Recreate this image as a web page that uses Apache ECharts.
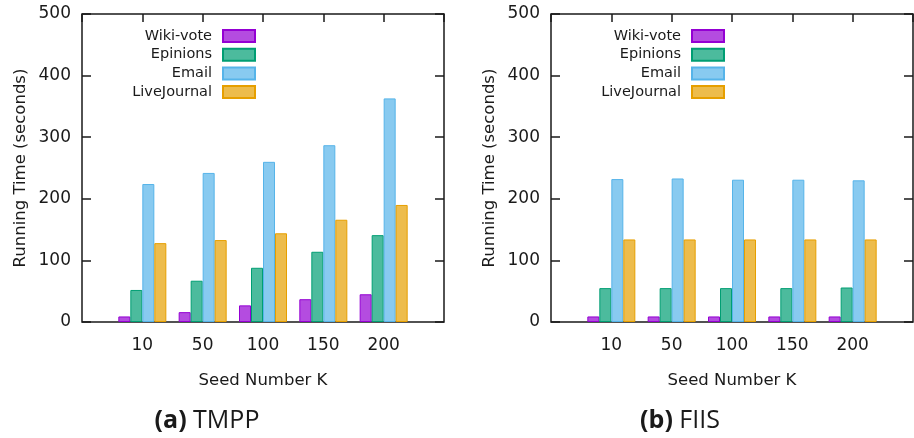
<!DOCTYPE html>
<html>
<head>
<meta charset="utf-8">
<script src="https://cdn.jsdelivr.net/npm/echarts@6/dist/echarts.min.js"></script>
<style>
html,body{margin:0;padding:0;background:#fff;}
#chart{width:914px;height:438px;}
</style>
</head>
<body>
<div id="chart"></div>
<script>
var categories = ['10', '50', '100', '150', '200'];
var seriesNames = ['Wiki-vote', 'Epinions', 'Email', 'LiveJournal'];
var yTicks = [0, 100, 200, 300, 400, 500];

// (a) TMPP
var tmppWiki = [9, 16, 27, 37, 45];
var tmppEpinions = [52, 67, 88, 114, 141];
var tmppEmail = [224, 242, 260, 287, 363];
var tmppLive = [128, 133, 144, 166, 190];

// (b) FIIS
var fiisWiki = [9, 9, 9, 9, 9];
var fiisEpinions = [55, 55, 55, 55, 56];
var fiisEmail = [232, 233, 231, 231, 230];
var fiisLive = [134, 134, 134, 134, 134];

var baseColors = ['148,0,211', '0,158,115', '86,180,233', '230,159,0'];
var textColor = '#1a1a1a';
var font = 'DejaVu Sans';

var axisCats = [''].concat(categories, ['']);
function pad(arr) { return ['-'].concat(arr, ['-']); }

var grids = [
  {left: 82, top: 14, width: 362, height: 308},
  {left: 551, top: 14, width: 362, height: 308}
];

var option = {
  animation: false,
  backgroundColor: '#fff',
  textStyle: {fontFamily: font, color: textColor},
  grid: grids.map(function (g) {
    return {left: g.left, top: g.top, width: g.width, height: g.height,
      show: true, borderColor: textColor, borderWidth: 1.5, backgroundColor: 'transparent',
      containLabel: false, outerBoundsMode: 'none'};
  }),
  xAxis: [],
  yAxis: [],
  series: [],
  legend: [],
  title: [
    {text: '{b|(a)} TMPP', left: 207, top: 406, textAlign: 'center', padding: 0,
      textStyle: {fontFamily: 'Open Sans', fontSize: 25, fontWeight: 'normal', color: textColor, lineHeight: 30,
        rich: {b: {fontFamily: 'Open Sans', fontSize: 25, fontWeight: 'bold', color: textColor, lineHeight: 30}}}},
    {text: '{b|(b)} FIIS', left: 680, top: 406, textAlign: 'center', padding: 0,
      textStyle: {fontFamily: 'Open Sans', fontSize: 25, fontWeight: 'normal', color: textColor, lineHeight: 30,
        rich: {b: {fontFamily: 'Open Sans', fontSize: 25, fontWeight: 'bold', color: textColor, lineHeight: 30}}}}
  ]
};

var dataSets = [
  [tmppWiki, tmppEpinions, tmppEmail, tmppLive],
  [fiisWiki, fiisEpinions, fiisEmail, fiisLive]
];
var legendRights = [658, 189];

for (var gi = 0; gi < 2; gi++) {
  // bottom x axis
  option.xAxis.push({
    type: 'category', gridIndex: gi, position: 'bottom', data: axisCats, boundaryGap: false,
    axisLine: {show: false, onZero: false}, axisTick: {show: false}, splitLine: {show: false},
    axisLabel: {fontSize: 17, color: textColor, fontFamily: font, margin: 15, interval: 0},
    name: 'Seed Number K', nameLocation: 'middle', nameGap: 50,
    nameTextStyle: {fontSize: 16.5, color: textColor, fontFamily: font}
  });
  // top mirror x axis (ticks only)
  option.xAxis.push({
    type: 'category', gridIndex: gi, position: 'top', data: axisCats, boundaryGap: false,
    axisLine: {show: false, onZero: false}, splitLine: {show: false},
    axisLabel: {show: true, interval: 0, color: 'rgba(0,0,0,0)', fontSize: 10},
    axisTick: {show: true, inside: true, length: 8, interval: 0, lineStyle: {color: textColor, width: 1.5}}
  });
  option.yAxis.push({
    type: 'value', gridIndex: gi, position: 'left', min: yTicks[0], max: yTicks[yTicks.length - 1], interval: 100,
    axisLine: {show: false, onZero: false}, splitLine: {show: false},
    axisTick: {show: true, inside: true, length: 9, lineStyle: {color: textColor, width: 1.5}},
    axisLabel: {fontSize: 17, color: textColor, fontFamily: font, margin: 11},
    name: 'Running Time (seconds)', nameLocation: 'middle', nameGap: 53,
    nameTextStyle: {fontSize: 16.5, color: textColor, fontFamily: font}
  });
  option.yAxis.push({
    type: 'value', gridIndex: gi, position: 'right', min: yTicks[0], max: yTicks[yTicks.length - 1], interval: 100,
    axisLine: {show: false, onZero: false}, splitLine: {show: false}, axisLabel: {show: false},
    axisTick: {show: true, inside: true, length: 9, lineStyle: {color: textColor, width: 1.5}}
  });
  for (var si = 0; si < 4; si++) {
    option.series.push({
      type: 'bar', name: seriesNames[si], xAxisIndex: gi * 2, yAxisIndex: gi * 2,
      data: pad(dataSets[gi][si]), barWidth: 12, barGap: '0%',
      itemStyle: {color: 'rgba(' + baseColors[si] + ',0.7)', borderColor: 'rgb(' + baseColors[si] + ')', borderWidth: 1},
      emphasis: {disabled: true}
    });
  }
  option.legend.push({
    orient: 'vertical', right: legendRights[gi], top: 27, align: 'right', padding: 0,
    itemWidth: 32, itemHeight: 12, itemGap: 0.7, icon: 'rect', selectedMode: false,
    data: seriesNames,
    textStyle: {fontSize: 14.5, color: textColor, fontFamily: font, lineHeight: 18, padding: [0, 6, 0, 0]}
  });
}

var chart = echarts.init(document.getElementById('chart'), null, {renderer: 'canvas'});
chart.setOption(option);
</script>
</body>
</html>
